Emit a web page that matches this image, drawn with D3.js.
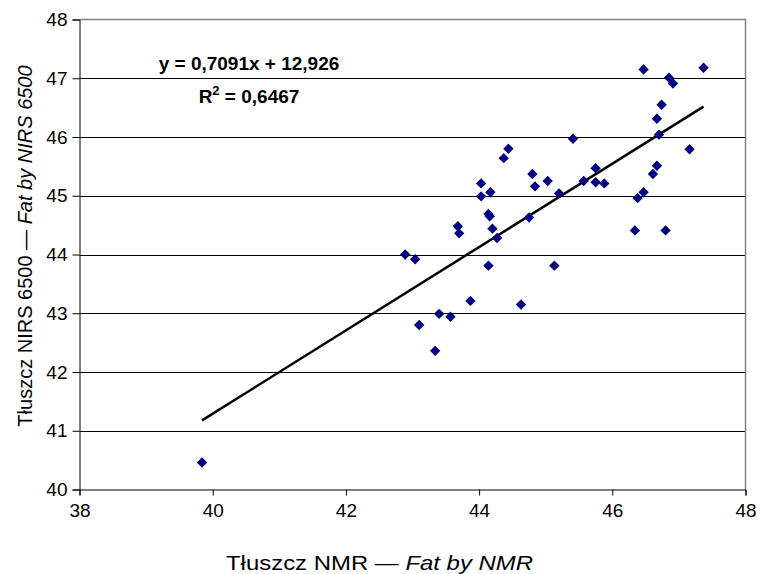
<!DOCTYPE html>
<html>
<head>
<meta charset="utf-8">
<script src="https://cdn.jsdelivr.net/npm/d3@7"></script>
<style>
  html, body { margin: 0; padding: 0; background: #fff; }
  svg { display: block; font-family: Arial, "Liberation Sans", sans-serif; }
</style>
</head>
<body>
<svg id="chart" width="760" height="574"></svg>
<script>
// Data
const nmrFat = [
  39.84, 42.89, 43.04, 43.10, 43.34, 43.40, 43.57, 43.68, 43.70, 43.87,
  44.03, 44.03, 44.17, 44.14, 44.16, 44.14, 44.20, 44.27, 44.37, 44.44,
  44.63, 44.75, 44.80, 44.84, 45.03, 45.13, 45.20, 45.41, 45.57, 45.75,
  45.75, 45.88, 46.34, 46.38, 46.47, 46.47, 46.61, 46.67, 46.67, 46.70,
  46.74, 46.80, 46.85, 46.91, 47.16, 47.37
];
const nirsFat = [
  40.46, 44.00, 43.92, 42.80, 42.36, 42.99, 42.94, 44.48, 44.36, 43.21,
  45.21, 44.99, 45.06, 44.69, 44.65, 43.81, 44.44, 44.28, 45.64, 45.80,
  43.15, 44.63, 45.37, 45.16, 45.25, 43.81, 45.04, 45.97, 45.25, 45.47,
  45.23, 45.21, 44.41, 44.96, 45.06, 47.15, 45.37, 45.51, 46.31, 46.04,
  46.55, 44.41, 47.01, 46.91, 45.79, 47.18
];
const xTicks = [38, 40, 42, 44, 46, 48];
const yTicks = [40, 41, 42, 43, 44, 45, 46, 47, 48];
const slope = 0.7091;
const intercept = 12.926;
const equationText = "y = 0,7091x + 12,926";
const r2Value = "0,6467";
const xTitlePlain = "Tłuszcz NMR — ";
const xTitleItalic = "Fat by NMR";
const yTitlePlain = "Tłuszcz NIRS 6500 — ";
const yTitleItalic = "Fat by NIRS 6500";

const svg = d3.select("#chart");
const pLeft = 79.5, pRight = 745.5, pTop = 19.5, pBottom = 489.5;

const x = d3.scaleLinear().domain([38, 48]).range([pLeft, pRight]);
const y = d3.scaleLinear().domain([40, 48]).range([pBottom, pTop]);

// Gridlines
svg.append("g")
  .selectAll("line")
  .data(yTicks.filter(d => d > 40 && d < 48))
  .join("line")
  .attr("x1", pLeft).attr("x2", pRight)
  .attr("y1", d => Math.round(y(d)) + 0.5).attr("y2", d => Math.round(y(d)) + 0.5)
  .attr("stroke", "#000").attr("stroke-width", 1);

// Plot frame (top & right gray)
svg.append("path")
  .attr("d", `M${pLeft},${pTop}H${pRight}V${pBottom}`)
  .attr("fill", "none").attr("stroke", "#808080").attr("stroke-width", 1.5);

// Axes
const xAxis = d3.axisBottom(x).tickValues(xTicks).tickSize(6).tickPadding(8).tickFormat(d3.format("d"));
const yAxis = d3.axisLeft(y).tickValues(yTicks).tickSize(7).tickPadding(5).tickFormat(d3.format("d"));

const gx = svg.append("g").attr("transform", `translate(0,${pBottom})`).call(xAxis);
const gy = svg.append("g").attr("transform", `translate(${pLeft},0)`).call(yAxis);
[gx, gy].forEach(g => {
  g.select(".domain").attr("stroke", "#000").attr("stroke-width", 1);
  g.selectAll(".tick line").attr("stroke", "#000");
  g.selectAll(".tick text").attr("fill", "#000")
    .attr("font-family", "Arial, 'Liberation Sans', sans-serif")
    .attr("font-size", 19);
});

// Trend line
const xMin = d3.min(nmrFat), xMax = d3.max(nmrFat);
svg.append("line")
  .attr("x1", x(xMin)).attr("y1", y(slope * xMin + intercept))
  .attr("x2", x(xMax)).attr("y2", y(slope * xMax + intercept))
  .attr("stroke", "#000").attr("stroke-width", 2.5);

// Points
const pts = nmrFat.map((v, i) => [v, nirsFat[i]]);
svg.append("g")
  .selectAll("path")
  .data(pts)
  .join("path")
  .attr("transform", d => `translate(${x(d[0])},${y(d[1])})`)
  .attr("d", "M0,-5.2L5.2,0L0,5.2L-5.2,0Z")
  .attr("fill", "#000080");

// Equation
svg.append("text")
  .attr("x", 249).attr("y", 70)
  .attr("text-anchor", "middle")
  .attr("font-size", 19).attr("font-weight", "bold")
  .text(equationText);
const r2 = svg.append("text")
  .attr("x", 249).attr("y", 103)
  .attr("text-anchor", "middle")
  .attr("font-size", 19).attr("font-weight", "bold");
r2.append("tspan").text("R");
r2.append("tspan").attr("dy", -8).attr("font-size", 13).text("2");
r2.append("tspan").attr("dy", 8).text(" = " + r2Value);

// Axis titles
const xt = svg.append("text")
  .attr("x", 226).attr("y", 570)
  .attr("text-anchor", "start")
  .attr("font-size", 21)
  .attr("textLength", 307)
  .attr("lengthAdjust", "spacingAndGlyphs");
xt.append("tspan").text(xTitlePlain);
xt.append("tspan").attr("font-style", "italic").text(xTitleItalic);

const yt = svg.append("text")
  .attr("transform", `translate(32,246) rotate(-90)`)
  .attr("text-anchor", "middle")
  .attr("font-size", 20);
yt.append("tspan").text(yTitlePlain);
yt.append("tspan").attr("font-style", "italic").text(yTitleItalic);
</script>
</body>
</html>
